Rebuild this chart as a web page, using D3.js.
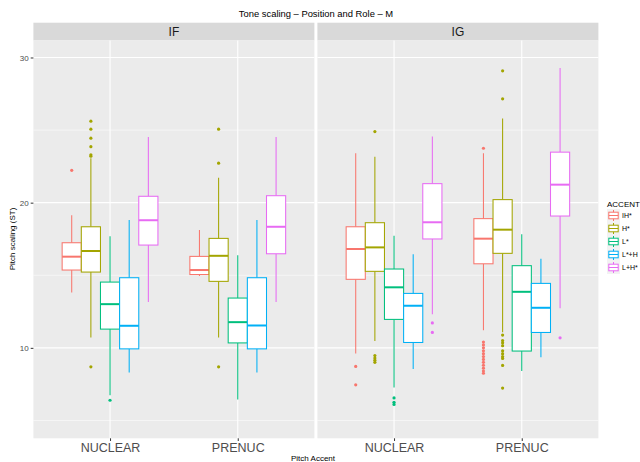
<!DOCTYPE html>
<html>
<head>
<meta charset="utf-8">
<script src="https://cdn.jsdelivr.net/npm/d3@7"></script>
<style>
  html, body { margin: 0; padding: 0; background: #ffffff; }
  svg { display: block; font-family: "Liberation Sans", Arial, Helvetica, sans-serif; }
</style>
</head>
<body>
<svg id="chart" width="640" height="462"></svg>
<script>
// Facets, categories and groups
const panels = ["IF", "IG"];
const positions = ["NUCLEAR", "PRENUC"];
const accents = ["IH*", "H*", "L*", "L*+H", "L+H*"];
const accentColors = ["#F8766D", "#A3A500", "#00BF7D", "#00B0F6", "#E76BF3"];
const yTicks = [10, 20, 30];

// Box statistics, ordered panel -> position -> accent
const lowWhisker = [
  13.82, 10.72, 6.74, 8.30, 13.15,
  14.95, 10.72, 6.44, 8.30, 13.15,
  9.61, 10.48, 7.27, 8.55, 12.32,
  11.22, 11.08, 8.41, 9.36, 12.72
];
const lowerQuartile = [
  15.36, 15.22, 11.29, 9.93, 17.08,
  15.05, 14.58, 10.34, 9.93, 16.48,
  14.72, 15.27, 11.96, 10.37, 17.50,
  15.79, 16.51, 9.78, 11.06, 19.08
];
const medians = [
  16.28, 16.67, 13.01, 11.52, 18.79,
  15.36, 16.34, 11.77, 11.54, 18.34,
  16.81, 16.92, 14.17, 12.90, 18.65,
  17.52, 18.14, 13.86, 12.76, 21.24
];
const upperQuartile = [
  17.24, 18.34, 14.53, 14.83, 20.44,
  16.30, 17.54, 13.43, 14.83, 20.48,
  18.34, 18.62, 15.43, 13.75, 21.31,
  18.90, 20.21, 15.66, 14.44, 23.48
];
const highWhisker = [
  19.13, 23.06, 17.68, 18.81, 24.53,
  18.12, 21.72, 16.37, 18.81, 24.53,
  23.41, 23.17, 17.72, 16.44, 24.55,
  23.41, 25.79, 17.82, 16.14, 29.27
];

// Outliers: [panel, position, accent, value]
const outliers = [
  ["IF", "NUCLEAR", "IH*", 22.23],
  ["IF", "NUCLEAR", "H*", 25.61], ["IF", "NUCLEAR", "H*", 25.06], ["IF", "NUCLEAR", "H*", 24.44],
  ["IF", "NUCLEAR", "H*", 23.86], ["IF", "NUCLEAR", "H*", 23.30], ["IF", "NUCLEAR", "H*", 23.20],
  ["IF", "NUCLEAR", "H*", 8.69],
  ["IF", "NUCLEAR", "L*", 6.39],
  ["IF", "PRENUC", "H*", 25.06], ["IF", "PRENUC", "H*", 22.72], ["IF", "PRENUC", "H*", 8.69],
  ["IG", "NUCLEAR", "IH*", 8.72], ["IG", "NUCLEAR", "IH*", 7.45],
  ["IG", "NUCLEAR", "H*", 24.90], ["IG", "NUCLEAR", "H*", 9.47], ["IG", "NUCLEAR", "H*", 9.30],
  ["IG", "NUCLEAR", "H*", 9.15], ["IG", "NUCLEAR", "H*", 9.00],
  ["IG", "NUCLEAR", "L*", 6.55], ["IG", "NUCLEAR", "L*", 6.25], ["IG", "NUCLEAR", "L*", 6.10],
  ["IG", "NUCLEAR", "L+H*", 11.72], ["IG", "NUCLEAR", "L+H*", 11.06],
  ["IG", "PRENUC", "IH*", 23.75], ["IG", "PRENUC", "IH*", 10.40], ["IG", "PRENUC", "IH*", 10.20],
  ["IG", "PRENUC", "IH*", 10.00], ["IG", "PRENUC", "IH*", 9.80], ["IG", "PRENUC", "IH*", 9.60],
  ["IG", "PRENUC", "IH*", 9.40], ["IG", "PRENUC", "IH*", 9.20], ["IG", "PRENUC", "IH*", 9.00],
  ["IG", "PRENUC", "IH*", 8.80], ["IG", "PRENUC", "IH*", 8.60], ["IG", "PRENUC", "IH*", 8.40],
  ["IG", "PRENUC", "IH*", 8.25],
  ["IG", "PRENUC", "H*", 29.08], ["IG", "PRENUC", "H*", 27.15], ["IG", "PRENUC", "H*", 10.88],
  ["IG", "PRENUC", "H*", 10.50], ["IG", "PRENUC", "H*", 10.35], ["IG", "PRENUC", "H*", 10.15],
  ["IG", "PRENUC", "H*", 9.80], ["IG", "PRENUC", "H*", 9.60], ["IG", "PRENUC", "H*", 9.40],
  ["IG", "PRENUC", "H*", 9.27], ["IG", "PRENUC", "H*", 8.79], ["IG", "PRENUC", "H*", 7.23],
  ["IG", "PRENUC", "L+H*", 10.69]
];

// Assemble box records from the stat arrays
const boxes = [];
panels.forEach((p, pi) => positions.forEach((pos, si) => accents.forEach((a, ai) => {
  const i = pi * 10 + si * 5 + ai;
  boxes.push({
    panel: p, position: pos, accent: a,
    lo: lowWhisker[i], q1: lowerQuartile[i], med: medians[i],
    q3: upperQuartile[i], hi: highWhisker[i]
  });
})));

const svg = d3.select("#chart");
const color = d3.scaleOrdinal().domain(accents).range(accentColors);

// Layout
const panelTop = 40.5, panelBottom = 438.3;
const stripTop = 22.7;
const panelWidth = 281;
const panelX = d3.scaleBand().domain(panels).range([33.4, 33.4 + panelWidth * 2 + 3]).paddingInner(3 / (panelWidth * 2 + 3) * 2);
const panelLeft = { IF: 33.4, IG: 317.4 };

const y = d3.scaleLinear().domain([3.77, 31.17]).range([panelBottom, panelTop]);
const x = d3.scalePoint().domain(positions).range([0, panelWidth]).padding(0.6);
const step = x.step();
const dodge = d3.scaleBand().domain(accents).range([-0.375 * step, 0.375 * step]);
const boxW = dodge.bandwidth();

// Title
svg.append("text")
  .attr("x", 316).attr("y", 17.2)
  .attr("text-anchor", "middle")
  .attr("font-size", 9.4)
  .attr("fill", "#000")
  .text("Tone scaling \u2013 Position and Role \u2013 M");

panels.forEach(p => {
  const g = svg.append("g").attr("transform", `translate(${panelLeft[p]},0)`);

  // Strip
  g.append("rect").attr("x", 0).attr("y", stripTop).attr("width", panelWidth)
    .attr("height", panelTop - stripTop).attr("fill", "#D9D9D9");
  g.append("text").attr("x", panelWidth / 2).attr("y", (stripTop + panelTop) / 2 + 4.3)
    .attr("text-anchor", "middle").attr("font-size", 12).attr("fill", "#1A1A1A").text(p);

  // Panel background
  g.append("rect").attr("x", 0).attr("y", panelTop).attr("width", panelWidth)
    .attr("height", panelBottom - panelTop).attr("fill", "#EBEBEB");

  // Minor grid
  g.selectAll("line.minor").data([5, 15, 25]).join("line")
    .attr("x1", 0).attr("x2", panelWidth)
    .attr("y1", d => y(d)).attr("y2", d => y(d))
    .attr("stroke", "#FFFFFF").attr("stroke-width", 0.55);
  // Major grid
  g.selectAll("line.majorY").data(yTicks).join("line")
    .attr("x1", 0).attr("x2", panelWidth)
    .attr("y1", d => y(d)).attr("y2", d => y(d))
    .attr("stroke", "#FFFFFF").attr("stroke-width", 1.1);
  g.selectAll("line.majorX").data(positions).join("line")
    .attr("x1", d => x(d)).attr("x2", d => x(d))
    .attr("y1", panelTop).attr("y2", panelBottom)
    .attr("stroke", "#FFFFFF").attr("stroke-width", 1.1);

  // Boxplots
  const pb = boxes.filter(b => b.panel === p);
  const bg = g.selectAll("g.box").data(pb).join("g")
    .attr("transform", d => `translate(${x(d.position) + dodge(d.accent) + boxW / 2},0)`);
  bg.append("line").attr("x1", 0).attr("x2", 0)
    .attr("y1", d => y(d.hi)).attr("y2", d => y(d.q3))
    .attr("stroke", d => color(d.accent)).attr("stroke-width", 1.05);
  bg.append("line").attr("x1", 0).attr("x2", 0)
    .attr("y1", d => y(d.q1)).attr("y2", d => y(d.lo))
    .attr("stroke", d => color(d.accent)).attr("stroke-width", 1.05);
  bg.append("rect")
    .attr("x", -boxW / 2).attr("width", boxW)
    .attr("y", d => y(d.q3)).attr("height", d => y(d.q1) - y(d.q3))
    .attr("fill", "#FFFFFF").attr("stroke", d => color(d.accent)).attr("stroke-width", 1.05);
  bg.append("line").attr("x1", -boxW / 2).attr("x2", boxW / 2)
    .attr("y1", d => y(d.med)).attr("y2", d => y(d.med))
    .attr("stroke", d => color(d.accent)).attr("stroke-width", 2);

  // Outlier points
  g.selectAll("circle.out").data(outliers.filter(o => o[0] === p)).join("circle")
    .attr("cx", d => x(d[1]) + dodge(d[2]) + boxW / 2)
    .attr("cy", d => y(d[3]))
    .attr("r", 1.6)
    .attr("fill", d => color(d[2]));

  // X axis
  const xa = g.append("g").attr("transform", `translate(0,${panelBottom})`)
    .call(d3.axisBottom(x).tickSize(2.7).tickPadding(2));
  xa.select(".domain").remove();
  xa.selectAll(".tick line").attr("stroke", "#333333").attr("stroke-width", 1);
  xa.selectAll(".tick text").attr("font-size", 12.5).attr("fill", "#4D4D4D")
    .attr("font-family", "Liberation Sans, Arial, sans-serif");
});

// Y axis
const ya = svg.append("g").attr("transform", `translate(${panelLeft.IF},0)`)
  .call(d3.axisLeft(y).tickValues(yTicks).tickSize(2.7).tickPadding(2));
ya.select(".domain").remove();
ya.selectAll(".tick line").attr("stroke", "#333333").attr("stroke-width", 1);
ya.selectAll(".tick text").attr("font-size", 8).attr("fill", "#4D4D4D")
  .attr("font-family", "Liberation Sans, Arial, sans-serif");

// Axis titles
svg.append("text").attr("x", 313).attr("y", 460.5).attr("text-anchor", "middle")
  .attr("font-size", 8).attr("fill", "#000").text("Pitch Accent");
svg.append("text").attr("transform", "translate(14.5,239) rotate(-90)")
  .attr("text-anchor", "middle").attr("font-size", 8).attr("fill", "#000")
  .text("Pitch scaling (ST)");

// Legend
const legend = svg.append("g").attr("transform", "translate(607,0)");
legend.append("text").attr("x", 0).attr("y", 207).attr("font-size", 8).attr("fill", "#000").text("ACCENT");
const keySize = 13;
const keys = legend.selectAll("g.key").data(accents).join("g")
  .attr("transform", (d, i) => `translate(0,${209 + i * keySize})`);
keys.append("rect").attr("width", keySize).attr("height", keySize).attr("fill", "#F2F2F2");
keys.append("line").attr("x1", keySize / 2).attr("x2", keySize / 2).attr("y1", 1).attr("y2", keySize - 1)
  .attr("stroke", d => color(d)).attr("stroke-width", 1);
keys.append("rect").attr("x", 1.8).attr("y", 3.2).attr("width", keySize - 3.6).attr("height", keySize - 6.4)
  .attr("fill", "#FFFFFF").attr("stroke", d => color(d)).attr("stroke-width", 1);
keys.append("line").attr("x1", 1.8).attr("x2", keySize - 1.8).attr("y1", keySize / 2).attr("y2", keySize / 2)
  .attr("stroke", d => color(d)).attr("stroke-width", 1);
keys.append("text").attr("x", keySize + 2).attr("y", keySize / 2 + 2.5)
  .attr("font-size", 7).attr("fill", "#000").text(d => d);
</script>
</body>
</html>
